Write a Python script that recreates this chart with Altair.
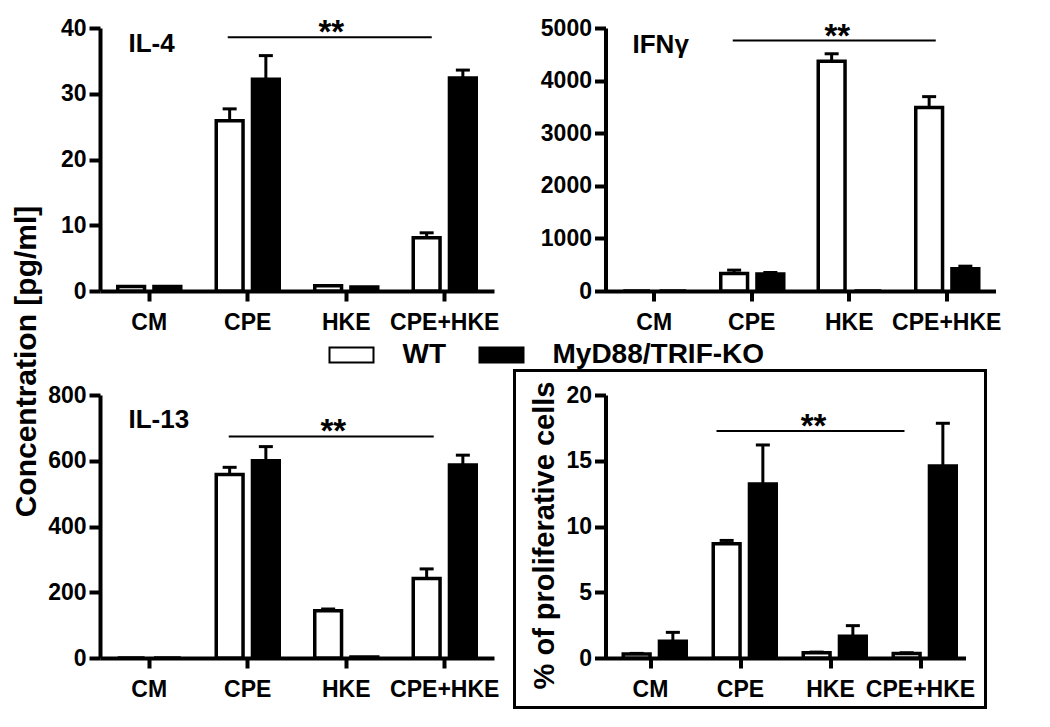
import altair as alt
import pandas as pd

categories = ["CM", "CPE", "HKE", "CPE+HKE"]
groups = ["WT", "MyD88/TRIF-KO"]

# IL-4 (pg/ml)
il4_wt = [0.7, 25.9, 0.8, 8.1]
il4_wt_err = [0.0, 1.8, 0.0, 0.75]
il4_ko = [0.7, 32.2, 0.6, 32.4]
il4_ko_err = [0.0, 3.6, 0.0, 1.2]

# IFN-gamma (pg/ml)
ifn_wt = [0, 335, 4370, 3487]
ifn_wt_err = [0, 62, 140, 208]
ifn_ko = [0, 322, 0, 422]
ifn_ko_err = [0, 30, 0, 50]

# IL-13 (pg/ml)
il13_wt = [0, 558, 144, 242]
il13_wt_err = [0, 22, 5, 29]
il13_ko = [0, 600, 3, 587]
il13_ko_err = [0, 43, 0, 30]

# % of proliferative cells
prol_wt = [0.3, 8.69, 0.4, 0.35]
prol_wt_err = [0.05, 0.25, 0.05, 0.05]
prol_ko = [1.27, 13.24, 1.65, 14.6]
prol_ko_err = [0.68, 2.96, 0.81, 3.25]

FONT = "Liberation Sans"


def make_df(wt, wt_err, ko, ko_err):
    rows = []
    for i, c in enumerate(categories):
        rows.append(dict(cat=c, group=groups[0], value=wt[i], err=wt_err[i], upper=wt[i] + wt_err[i]))
        rows.append(dict(cat=c, group=groups[1], value=ko[i], err=ko_err[i], upper=ko[i] + ko_err[i]))
    return pd.DataFrame(rows)


def panel(df, ymax, yticks, width, label, label_x, label_y, sig_y, sig_off, star_dx,
          ytitle=None, title_y=None, title_size=30, legend=None, frame=None):
    xs = alt.Scale(domain=categories, paddingInner=0, paddingOuter=0)
    xaxis = alt.Axis(title=None, labelAngle=0, tickSize=10, labelPadding=10, bandPosition=0.5,
                     domainWidth=4, tickWidth=4, domainColor="black", tickColor="black",
                     labelFont=FONT, labelFontWeight="bold", labelFontSize=23, labelColor="black",
                     grid=False)
    x = alt.X("cat:N", sort=categories, scale=xs, axis=xaxis)
    xo = alt.XOffset("group:N", sort=groups,
                     scale=alt.Scale(domain=groups, paddingInner=0.26, paddingOuter=0.49))
    yaxis_kw = dict(values=yticks, format="d", tickSize=11, labelPadding=3, domainWidth=4, tickWidth=4,
                    domainColor="black", tickColor="black", labelFont=FONT, labelFontWeight="bold",
                    labelFontSize=23, labelColor="black", grid=False)
    if ytitle:
        yaxis_kw.update(title=ytitle, titleFont=FONT, titleFontWeight="bold", titleFontSize=title_size,
                        titleColor="black", titlePadding=6)
        if title_y is not None:
            yaxis_kw.update(titleY=title_y)
    else:
        yaxis_kw.update(title=None)
    y = alt.Y("value:Q", scale=alt.Scale(domain=[0, ymax], nice=False), axis=alt.Axis(**yaxis_kw))
    fill = alt.Fill("group:N", sort=groups, scale=alt.Scale(domain=groups, range=["white", "black"]),
                    legend=legend)

    bars = alt.Chart(df).mark_bar(stroke="black", strokeWidth=3.5, opacity=1).encode(
        x=x, xOffset=xo, y=y, fill=fill)
    errdf = df[df.err > 0]
    rules = alt.Chart(errdf).mark_rule(color="black", strokeWidth=3).encode(
        x=x, xOffset=xo, y="value:Q", y2="upper:Q")
    caps = alt.Chart(errdf).mark_tick(color="black", orient="horizontal", size=14, thickness=3,
                                      opacity=1).encode(x=x, xOffset=xo, y="upper:Q")
    sig = pd.DataFrame({"cat": ["CPE"], "cat2": ["CPE+HKE"], "y": [sig_y]})
    sig_line = alt.Chart(sig).mark_rule(color="black", strokeWidth=2, xOffset=sig_off[0],
                                        x2Offset=sig_off[1]).encode(x=x, x2="cat2:N", y="y:Q")
    star = pd.DataFrame({"cat": ["HKE"], "y": [sig_y], "t": ["**"]})
    star_txt = alt.Chart(star).mark_text(font=FONT, fontWeight="bold", fontSize=33, color="black",
                                         baseline="alphabetic", dx=star_dx, dy=6).encode(
        x=x, y="y:Q", text="t:N")
    lab = pd.DataFrame({"t": [label]})
    lab_txt = alt.Chart(lab).mark_text(font=FONT, fontWeight="bold", fontSize=26, color="black",
                                       align="left", baseline="alphabetic").encode(
        x=alt.value(label_x), y=alt.value(label_y), text="t:N")
    layers = [bars, rules, caps, sig_line, star_txt, lab_txt]
    if frame:
        fr = alt.Chart(pd.DataFrame({"a": [1]})).mark_rect(fillOpacity=0, stroke="black",
                                                           strokeWidth=3).encode(
            x=alt.value(frame[0]), x2=alt.value(frame[1]), y=alt.value(frame[2]), y2=alt.value(frame[3]))
        layers.append(fr)
    return alt.layer(*layers).properties(width=width, height=263)


legend = alt.Legend(title=None, orient="none", legendX=228.5, legendY=304, direction="horizontal",
                    symbolType="M-1,-0.34H1V0.34H-1Z", symbolSize=1936, symbolStrokeColor="black",
                    symbolStrokeWidth=2, symbolOpacity=1, labelFont=FONT, labelFontSize=28,
                    labelFontWeight="bold", labelColor="black", labelOffset=28, columnPadding=29,
                    padding=0, labelLimit=400)

c1 = panel(make_df(il4_wt, il4_wt_err, il4_ko, il4_ko_err), 40, [0, 10, 20, 30, 40], 394,
           "IL-4", 28.5, 23.5, 38.6, (-20, -13), -15, legend=legend)
c2 = panel(make_df(ifn_wt, ifn_wt_err, ifn_ko, ifn_ko_err), 5000, [0, 1000, 2000, 3000, 4000, 5000], 390,
           "IFNγ", 27, 24.5, 4762, (-19, -11), -12)
c3 = panel(make_df(il13_wt, il13_wt_err, il13_ko, il13_ko_err), 800, [0, 200, 400, 600, 800], 394,
           "IL-13", 28.5, 32.5, 674, (-19, -11), -13, ytitle="Concentration [pg/ml]", title_y=-34)
c4 = panel(make_df(prol_wt, prol_wt_err, prol_ko, prol_ko_err), 20, [0, 5, 10, 15, 20], 360,
           "", 0, 0, 17.27, (-24, -16), -17, ytitle="% of proliferative cells", title_y=140,
           title_size=29, frame=(-91, 380, -24.5, 312.5))

chart = alt.concat(c1, c2, c3, c4, columns=2, spacing={"row": 104, "column": 111.5},
                   bounds="flush").properties(
    padding={"left": 3, "top": 9, "right": 0, "bottom": 0}
).configure_view(stroke=None)

chart.save("out.html", embed_options={"renderer": "svg", "actions": False})
